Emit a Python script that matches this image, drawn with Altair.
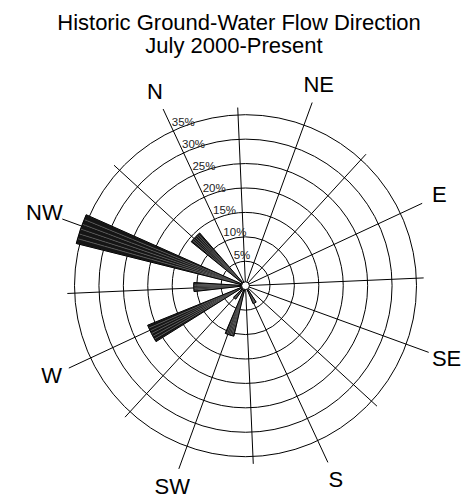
import math
import altair as alt
import pandas as pd

# ---- data ----
title_lines = ["Historic Ground-Water Flow Direction", "July 2000-Present"]
directions = ["N", "NE", "E", "SE", "S", "SW", "W", "NW"]
direction_deg = [0, 45, 90, 135, 180, 225, 270, 315]
bar_center_deg = [314, 339, 293.5, 268, 223, 177, 246]
bar_percent = [35.7, 14.3, 10.6, 21.6, 10.6, 4.0, 3.4]
bar_width_deg = 10
ring_percent = [5, 10, 15, 20, 25, 30, 35]
ring_labels = ["5%", "10%", "15%", "20%", "25%", "30%", "35%"]
spoke_deg = [i * 22.5 for i in range(16)]

# ---- geometry / style ----
ROT = -25.0            # compass north drawn 25 deg counter-clockwise
CX, CY = 237.5, 277.7  # plot-area pixel centre
R_MAX = 171.0          # pixels for 35 %
PCT_MAX = 35.0
FONT = "Liberation Sans"

theta_scale = alt.Scale(domain=[0, 360],
                        range=[math.radians(ROT), math.radians(ROT + 360)])
radius_scale = alt.Scale(type="linear", domain=[0, PCT_MAX], range=[0, R_MAX], zero=True)

# wedge strips (for hatch texture)
n_strip = 6
rows = []
for c, v in zip(bar_center_deg, bar_percent):
    start = c - bar_width_deg / 2
    for k in range(n_strip):
        rows.append({"a0": start + k * bar_width_deg / n_strip,
                     "a1": start + (k + 1) * bar_width_deg / n_strip,
                     "pct": v})
strips = pd.DataFrame(rows)
bars = pd.DataFrame({"center": bar_center_deg, "pct": bar_percent})
bars["a0"] = bars["center"] - bar_width_deg / 2
bars["a1"] = bars["center"] + bar_width_deg / 2

rings = pd.DataFrame({"pct": ring_percent, "label": ring_labels})
spokes = pd.DataFrame({"deg": spoke_deg})
spokes["major"] = [(d % 45) == 0 for d in spoke_deg]
dirs = pd.DataFrame({"deg": direction_deg, "label": directions})

px = R_MAX / PCT_MAX

spoke_layer = alt.Chart(spokes).transform_calculate(
    length="datum.major ? 39.9 : 36.5",
    ang="(datum.deg + %f) * PI / 180" % ROT,
).transform_calculate(
    x0="%f" % CX, y0="%f" % CY,
    x1="%f + datum.length * %f * sin(datum.ang)" % (CX, px),
    y1="%f - datum.length * %f * cos(datum.ang)" % (CY, px),
).mark_rule(color="black", strokeWidth=1).encode(
    x=alt.X("x0:Q", scale=None), y=alt.Y("y0:Q", scale=None),
    x2="x1:Q", y2="y1:Q",
)

ring_layer = alt.Chart(rings).mark_arc(
    filled=False, stroke="black", strokeWidth=1, theta=0, theta2=2 * math.pi
).encode(
    radius=alt.Radius("pct:Q", scale=radius_scale, stack=False),
    x=alt.value(CX), y=alt.value(CY),
)

strip_layer = alt.Chart(strips).mark_arc(
    fill="#151515", stroke="#666666", strokeWidth=0.5
).encode(
    theta=alt.Theta("a0:Q", scale=theta_scale, stack=False),
    theta2="a1:Q",
    radius=alt.Radius("pct:Q", scale=radius_scale, stack=False),
    x=alt.value(CX), y=alt.value(CY),
)

bar_outline = alt.Chart(bars).mark_arc(
    filled=False, stroke="black", strokeWidth=1
).encode(
    theta=alt.Theta("a0:Q", scale=theta_scale, stack=False),
    theta2="a1:Q",
    radius=alt.Radius("pct:Q", scale=radius_scale, stack=False),
    x=alt.value(CX), y=alt.value(CY),
)

center_dot = alt.Chart(pd.DataFrame({"r": [0.8]})).mark_arc(
    fill="white", stroke="black", strokeWidth=1, theta=0, theta2=2 * math.pi
).encode(
    radius=alt.Radius("r:Q", scale=radius_scale, stack=False),
    x=alt.value(CX), y=alt.value(CY),
)

ring_text = alt.Chart(rings).transform_calculate(north="0").mark_text(
    align="left", baseline="alphabetic", font=FONT, fontSize=11.5, dx=-1.5, dy=-5
).encode(
    theta=alt.Theta("north:Q", scale=theta_scale, stack=False),
    radius=alt.Radius("pct:Q", scale=radius_scale, stack=False),
    text="label:N",
    color=alt.value("#222222"),
    x=alt.value(CX), y=alt.value(CY),
)

dir_text = alt.Chart(dirs).transform_calculate(r="43.8").mark_text(
    align="center", baseline="middle", font=FONT, fontSize=22
).encode(
    theta=alt.Theta("deg:Q", scale=theta_scale, stack=False),
    radius=alt.Radius("r:Q", scale=radius_scale, stack=False),
    text="label:N",
    color=alt.value("black"),
    x=alt.value(CX), y=alt.value(CY),
)

title1 = alt.Chart(pd.DataFrame({"t": [title_lines[0]]})).mark_text(
    align="center", baseline="alphabetic", font=FONT, fontSize=22, color="black"
).encode(text="t:N", x=alt.value(231), y=alt.value(21.5))
title2 = alt.Chart(pd.DataFrame({"t": [title_lines[1]]})).mark_text(
    align="center", baseline="alphabetic", font=FONT, fontSize=22, color="black"
).encode(text="t:N", x=alt.value(226), y=alt.value(45))

chart = alt.layer(
    spoke_layer, ring_layer, strip_layer, bar_outline, center_dot,
    ring_text, dir_text, title1, title2
).resolve_scale(theta="shared", radius="shared").properties(
    width=460, height=492, padding=0, autosize=alt.AutoSizeParams(type="none")
).configure_view(stroke=None)

chart.save("out.html", embed_options={"renderer": "svg", "actions": False})
